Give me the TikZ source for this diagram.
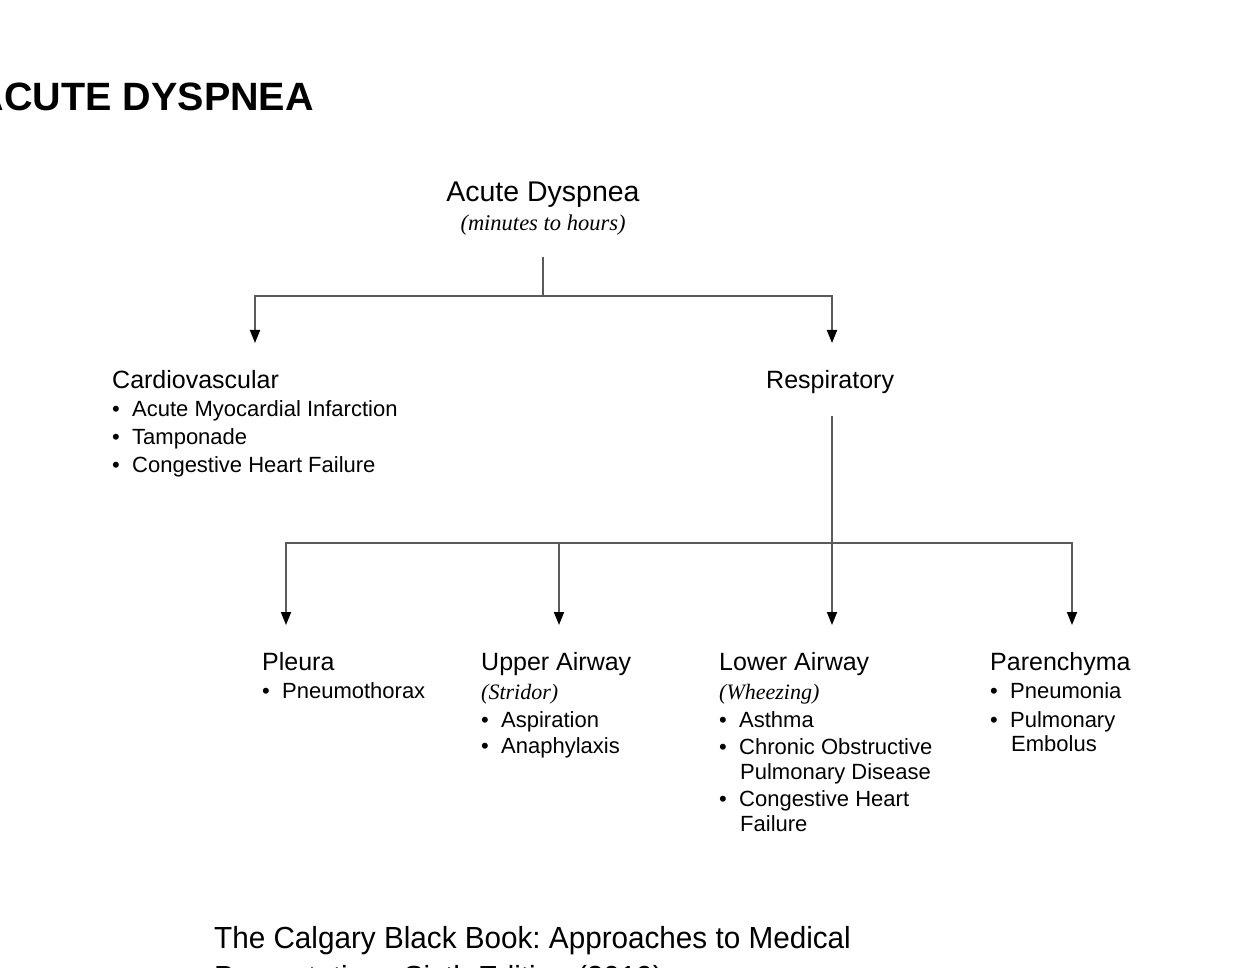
\documentclass[tikz,border=0pt]{standalone}
\usepackage{fontspec}
\setmainfont{Liberation Sans}
\newfontfamily\serifit{Liberation Serif}
\usetikzlibrary{arrows.meta}
\definecolor{linegray}{HTML}{5A5A5A}
\newcommand\bul{\makebox[20pt][l]{•}}
\frenchspacing
\tikzset{
  txt/.style={inner sep=0pt, anchor=base west},
  hdr/.style={txt, font=\fontsize{25}{30}\selectfont},
  itm/.style={txt, font=\fontsize{22}{26}\selectfont},
  note/.style={txt, font=\fontsize{22}{26}\serifit\itshape\selectfont},
  citefont/.style={txt, font=\fontsize{30.5}{36}\selectfont},
  conn/.style={draw=linegray, line width=1.8pt},
  arr/.style={conn, -{Triangle[length=13pt,width=10pt,color=black]}}
}
\begin{document}
\begin{tikzpicture}[x=1pt,y=-1pt]
\useasboundingbox (0,0) rectangle (1254,968);
\clip (0,0) rectangle (1254,968);
\fill[white] (0,0) rectangle (1254,968);

% title
\node[inner sep=0pt, anchor=base east, font=\fontsize{39.5}{44}\bfseries\selectfont] (title) at (314,111) {ACUTE DYSPNEA};

% root
\node[inner sep=0pt, anchor=base, font=\fontsize{28.5}{32}\selectfont] (root) at (543,202) {Acute Dyspnea};
\node[inner sep=0pt, anchor=base, font=\fontsize{22.5}{26}\serifit\itshape\selectfont] (rootsub) at (543,231) {(minutes to hours)};

% level 1
\node[hdr] (cardio) at (112,389) {Cardiovascular};
\node[itm] (cv1) at (112,417) {\bul Acute Myocardial Infarction};
\node[itm] (cv2) at (112,445) {\bul Tamponade};
\node[itm] (cv3) at (112,472) {\bul Congestive Heart Failure};

\node[hdr] (resp) at (766,389) {Respiratory};

% level 2
\node[hdr] (pleura) at (262,670) {Pleura};
\node[itm] (pl1) at (262,698) {\bul Pneumothorax};

\node[hdr] (upper) at (481,670) {Upper Airway};
\node[note] (uppersub) at (481,699) {(Stridor)};
\node[itm] (up1) at (481,727) {\bul Aspiration};
\node[itm] (up2) at (481,753) {\bul Anaphylaxis};

\node[hdr] (lower) at (719,670) {Lower Airway};
\node[note] (lowersub) at (719,699) {(Wheezing)};
\node[itm] (lo1) at (719,727) {\bul Asthma};
\node[itm] (lo2) at (719,754) {\bul Chronic Obstructive};
\node[itm] (lo2b) at (740,779) {Pulmonary Disease};
\node[itm] (lo3) at (719,806) {\bul Congestive Heart};
\node[itm] (lo3b) at (740,831) {Failure};

\node[hdr] (paren) at (990,670) {Parenchyma};
\node[itm] (pa1) at (990,698) {\bul Pneumonia};
\node[itm] (pa2) at (990,727) {\bul Pulmonary};
\node[itm] (pa2b) at (1011,751) {Embolus};

% citation
\node[citefont] (cite1) at (214,948) {\scalebox{0.973}[1]{The Calgary Black Book: Approaches to Medical}};
\node[citefont] (cite2) at (214,987) {\scalebox{0.973}[1]{Presentations Sixth Edition (2019)}};

% connector coordinates
\coordinate (r0) at (543,257);
\coordinate (r1) at (543,296);
\coordinate (acv) at (255,343);
\coordinate (arsp) at (832,343);
\coordinate (s0) at (832,416);
\coordinate (apl) at (286,625);
\coordinate (aup) at (559,625);
\coordinate (alo) at (832,625);
\coordinate (apa) at (1072,625);

\draw[conn] (r0) -- (r1);
\draw[arr] (r1) -| (acv);
\draw[arr] (r1) -| (arsp);

\draw[arr] (s0) -- (alo);
\draw[arr] (s0 |- 0,543) -| (apl);
\draw[arr] (s0 |- 0,543) -| (apa);
\draw[arr] (aup |- 0,543) -- (aup);
\end{tikzpicture}
\end{document}
